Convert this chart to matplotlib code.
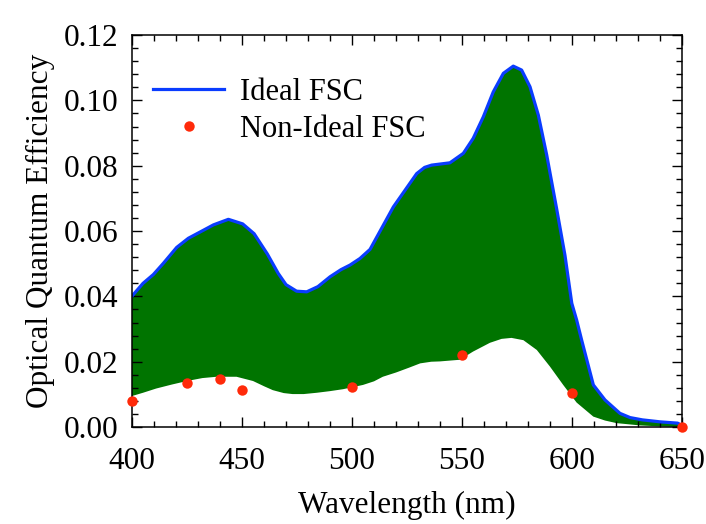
import numpy as np
import matplotlib.pyplot as plt
from matplotlib.ticker import MultipleLocator

# ideal FSC curve (upper edge of the green band)
ideal_wl = [400, 405, 409.7, 414.2, 420.3, 425.6, 430.9, 437, 443.8, 450.3,
            455.5, 461.5, 466.5, 470, 474.8, 479.4, 484.5, 490, 495, 499.1,
            503.6, 508.2, 518.8, 529.4, 533, 536.2, 544.5, 550.6, 555.1,
            559.7, 564.2, 568.8, 573.3, 577.1, 580.9, 584.7, 588.5, 593,
            596.8, 599.9, 602.1, 604.4, 609.7, 615, 621.8, 626.4, 632, 640,
            648, 650]
ideal_qe = [0.0401, 0.0440, 0.0467, 0.0501, 0.0550, 0.0578, 0.0597, 0.0619,
            0.0636, 0.0622, 0.0592, 0.0530, 0.0470, 0.0436, 0.0416, 0.0414,
            0.0430, 0.0460, 0.0482, 0.0496, 0.0516, 0.0544, 0.0674, 0.0776,
            0.0795, 0.0802, 0.0809, 0.0838, 0.0884, 0.0950, 0.1026, 0.1083,
            0.1105, 0.1093, 0.1042, 0.0955, 0.0833, 0.0669, 0.0526, 0.0379,
            0.0328, 0.0266, 0.0129, 0.0083, 0.0042, 0.0029, 0.0022, 0.0016,
            0.0012, 0.0005]

# lower edge of the green band
lower_wl = [400, 405, 411, 418, 425, 432, 438.5, 447.5, 455, 460, 464, 469,
            473, 478, 484, 490, 496, 505, 510, 514, 520, 526, 531, 536, 540,
            549, 555, 562.7, 568, 572.5, 577.9, 584, 590, 596, 602.1, 609.7,
            615, 620.3, 631, 640, 650]
lower_qe = [0.0095, 0.0105, 0.0118, 0.0130, 0.0141, 0.0150, 0.0154, 0.0154,
            0.0141, 0.0125, 0.0113, 0.0104, 0.0101, 0.0101, 0.0105, 0.0110,
            0.0116, 0.0129, 0.0140, 0.0154, 0.0167, 0.0182, 0.0195, 0.0200,
            0.0201, 0.0206, 0.0231, 0.0258, 0.0270, 0.0273, 0.0266, 0.0236,
            0.0185, 0.0129, 0.0075, 0.0032, 0.0020, 0.0012, 0.0005, 0.0002,
            0.0]

# non-ideal FSC points
nonideal_wl = [400, 425, 440, 450, 500, 550, 600, 650]
nonideal_qe = [0.0081, 0.0136, 0.0146, 0.0113, 0.0124, 0.0222, 0.0105, 0.0001]

plt.rcParams['font.family'] = 'Liberation Serif'

fig = plt.figure(figsize=(7.06, 5.24), dpi=100)
ax = fig.add_axes([0.187, 0.185, 0.779, 0.748])

# green band: upper curve forward, lower curve back
poly_x = np.concatenate([ideal_wl, lower_wl[::-1]])
poly_y = np.concatenate([ideal_qe, lower_qe[::-1]])
ax.fill(poly_x, poly_y, color='#007400', lw=0, zorder=1)

ax.plot(ideal_wl, ideal_qe, color='#0a3cff', lw=2.3, label='Ideal FSC',
        zorder=2, solid_joinstyle='round')
ax.plot(nonideal_wl, nonideal_qe, 'o', color='#ff2a0a', ms=7.5, mec='none',
        label='Non-Ideal FSC', zorder=3, clip_on=False)

ax.set_xlim(400, 650)
ax.set_ylim(0, 0.12)
ax.xaxis.set_major_locator(MultipleLocator(50))
ax.xaxis.set_minor_locator(MultipleLocator(10))
ax.yaxis.set_major_locator(MultipleLocator(0.02))
ax.yaxis.set_minor_locator(MultipleLocator(0.004))
ax.yaxis.set_major_formatter(plt.FuncFormatter(lambda v, p: f"{v:.2f}"))

ax.tick_params(which='both', direction='in', top=True, right=True,
               labelsize=22.5, width=1.0)
ax.tick_params(which='major', length=7)
ax.tick_params(which='minor', length=4)
ax.tick_params(axis='x', pad=14)
ax.tick_params(axis='y', pad=10)
for s in ax.spines.values():
    s.set_linewidth(1.1)

ax.set_xlabel('Wavelength (nm)', fontsize=22.5, labelpad=11)
ax.set_ylabel('Optical Quantum Efficiency', fontsize=22.5, labelpad=6)

ax.legend(loc='upper left', bbox_to_anchor=(0.0, 0.945), frameon=False,
          fontsize=22, handlelength=2.3, handletextpad=0.55, labelspacing=0.25,
          borderaxespad=0.3)

plt.savefig('out.png', dpi=100)
